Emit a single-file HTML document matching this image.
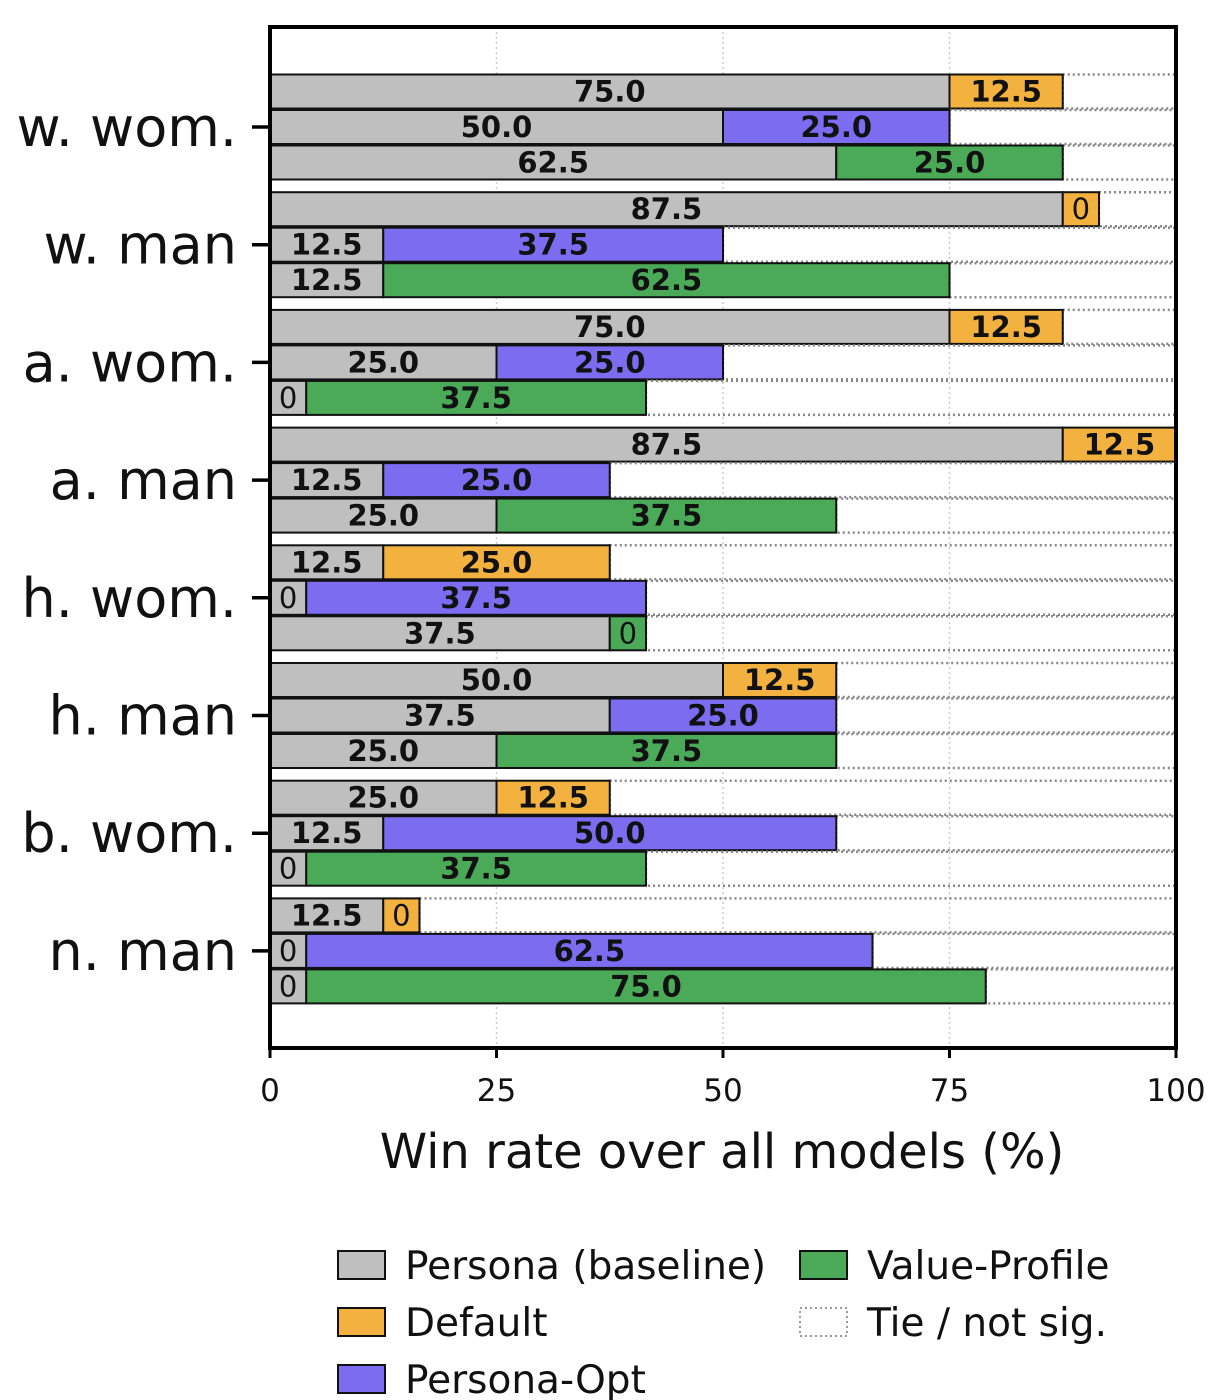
<!DOCTYPE html>
<html><head><meta charset="utf-8"><style>
body{margin:0;background:#fff}
svg{display:block;font-family:"DejaVu Sans","Liberation Sans",sans-serif}
</style></head><body>
<svg id="c" width="1225" height="1400"></svg>
<script>
const categories=["w. wom.","w. man","a. wom.","a. man","h. wom.","h. man","b. wom.","n. man"];
const defPersona=[75,87.5,75,87.5,12.5,50,25,12.5];
const defOther=[12.5,0,12.5,12.5,25,12.5,12.5,0];
const optPersona=[50,12.5,25,12.5,0,37.5,12.5,0];
const optOther=[25,37.5,25,25,37.5,25,50,62.5];
const vpPersona=[62.5,12.5,0,25,37.5,25,0,0];
const vpOther=[25,62.5,37.5,37.5,0,37.5,37.5,75];
const xTicks=[0,25,50,75,100];
const NS="http://www.w3.org/2000/svg";
const svg=document.getElementById('c');
const L=270,R=1176,T=27,B=1048;
const x=v=>L+(v/100)*(R-L);
const yC=i=>127+i*117.7;
function el(t,a,p){const e=document.createElementNS(NS,t);for(const k in a)e.setAttribute(k,a[k]);(p||svg).appendChild(e);return e;}
const col={p:"#bfbfbf",d:"#f3b13f",o:"#7b6cf0",v:"#4baa57"};
xTicks.slice(1,4).forEach(t=>{const g=el('line',{x1:x(t),x2:x(t),y1:T,y2:B,stroke:"#ccc","stroke-width":1.5,"stroke-dasharray":"2,3"});

});
const rows=[[defPersona,defOther,col.d,-35.5],[optPersona,optOther,col.o,0],[vpPersona,vpOther,col.v,35.5]];
const MINW=4,H=34;
categories.forEach((c,i)=>{
 rows.forEach(([pa,oa,oc,off])=>{
  const pv=pa[i],ov=oa[i];
  const pw=pv===0?MINW:pv, ow=ov===0?MINW:ov;
  const y0=yC(i)+off-H/2;
  const segs=[[0,pw,col.p,pv],[pw,pw+ow,oc,ov]];
  const tie=el('rect',{x:x(pw+ow),y:y0,width:Math.max(0,x(100)-x(pw+ow)),height:H,fill:"none",stroke:"#888","stroke-width":2.5,"stroke-dasharray":"2,3"});
  
  
  segs.forEach(([a,b,f,v],k)=>{
   const r=el('rect',{x:x(a),y:y0,width:x(b)-x(a),height:H,fill:f,stroke:"#111","stroke-width":2});
   
   
   const tx=el('text',{x:(x(a)+x(b))/2,y:y0+H/2+10,"text-anchor":"middle","font-size":29,"font-weight":v===0?"normal":"bold",fill:"#111"});
   tx.textContent=v===0?"0":v.toFixed(1);
   
   
  });
 });
 const tk=el('line',{x1:L-18,x2:L,y1:yC(i),y2:yC(i),stroke:"#000","stroke-width":3.5});
 
 
 const lb=el('text',{x:237,y:yC(i)+19,"text-anchor":"end","font-size":54,fill:"#111"});
 lb.textContent=c;
 
 
});
const fr=el('rect',{x:L,y:T,width:R-L,height:B-T,fill:"none",stroke:"#000","stroke-width":4});


xTicks.forEach(t=>{
 const tk=el('line',{x1:x(t),x2:x(t),y1:B,y2:B+10,stroke:"#000","stroke-width":3});
 
 
 const lb=el('text',{x:x(t),y:B+53,"text-anchor":"middle","font-size":31,fill:"#111"});
 lb.textContent=t;
 
 
});
const xt=el('text',{x:722,y:1168,"text-anchor":"middle","font-size":48,fill:"#111"});
xt.textContent="Win rate over all models (%)";


const legend=[["Persona (baseline)",col.p,338,1265],["Default",col.d,338,1322],["Persona-Opt",col.o,338,1379],["Value-Profile",col.v,800,1265],["Tie / not sig.",null,800,1322]];
legend.forEach(([t,f,lx,ly])=>{
 const r=el('rect',{x:lx,y:ly-14,width:47,height:28,fill:f||"none",stroke:f?"#111":"#999","stroke-width":2,"stroke-dasharray":f?"none":"2,3"});
 
 
 const tx=el('text',{x:lx+67,y:ly+14,"font-size":39,fill:"#111"});
 tx.textContent=t;
 
 
});
</script>
</body></html>
